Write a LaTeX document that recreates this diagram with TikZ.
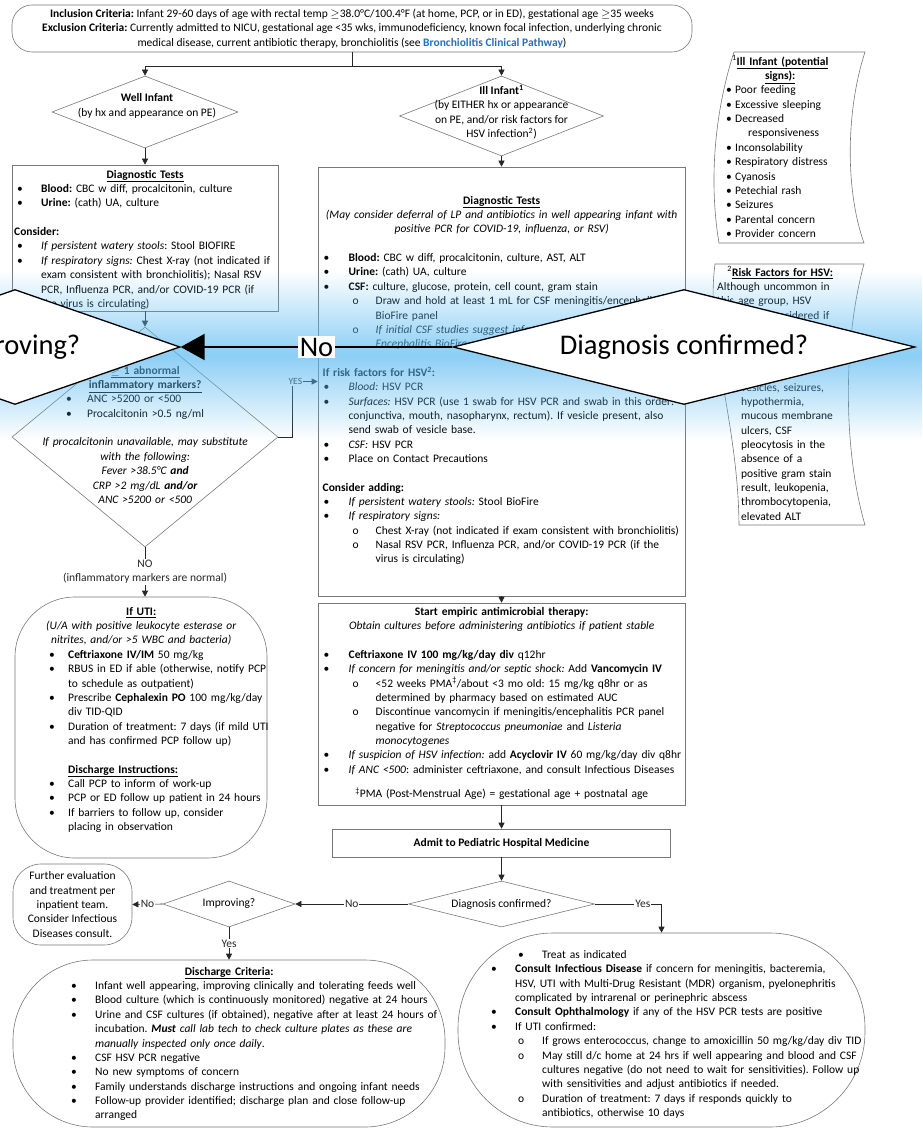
\documentclass[tikz,border=0pt]{standalone}
\usepackage{fontspec}
\setmainfont{Carlito}
\usetikzlibrary{shapes.geometric,arrows.meta,fadings}

\definecolor{linkblue}{RGB}{40,110,190}
\definecolor{bandblue}{RGB}{90,185,240}
\definecolor{edgegray}{RGB}{120,120,120}

\tikzfading[name=bandfade, top color=transparent!100, bottom color=transparent!100, middle color=transparent!30]

\frenchspacing
\newcommand{\bodyfont}{\fontsize{11.5pt}{14.35pt}\selectfont}
\newcommand{\bigfont}{\fontsize{28.5pt}{34pt}\selectfont}
\newcommand{\skipline}{\par\vspace{\baselineskip}}
% bullet / sub-bullet lines: [offset]{indent}{text}
\newcommand{\itm}[3][0pt]{\par\hangindent=\dimexpr#1+#2\relax\hangafter=1\noindent\hspace*{#1}\makebox[#2][l]{\textbullet}\strut#3}
\newcommand{\subitm}[3][0pt]{\par\hangindent=\dimexpr#1+#2\relax\hangafter=1\noindent\hspace*{#1}\makebox[#2][l]{o}\strut#3}

\begin{document}
\begin{tikzpicture}[x=1pt, y=-1pt,
    every node/.style={font=\bodyfont},
    box/.style={draw=edgegray, line width=0.6pt, inner sep=0pt},
    decision/.style={diamond, draw=edgegray, line width=0.6pt, inner sep=0pt},
    txt/.style={anchor=north west, inner sep=0pt, align=left, text width=#1},
    ctxt/.style={align=center, inner sep=0pt},
    arr/.style={-{Triangle[length=6pt,width=6pt]}, black!85, line width=0.6pt},
    lbl/.style={fill=white, inner sep=1pt},
    bigdecision/.style={diamond, draw=black, line width=1.3pt, fill=white, inner sep=0pt},
    bigarr/.style={-{Triangle[length=24pt,width=26pt]}, black, line width=2pt}]
    \useasboundingbox (0,0) rectangle (922,1131);

    % Define node positions (top to bottom)
    \node[box, rounded corners=20pt, minimum width=680pt, minimum height=47pt, align=center] (top) at (352,28.5)
        {\textbf{Inclusion Criteria:} Infant 29-60 days of age with rectal temp $\geq$38.0°C/100.4°F (at home, PCP, or in ED), gestational age $\geq$35 weeks\\
         \textbf{Exclusion Criteria:} Currently admitted to NICU, gestational age <35 wks, immunodeficiency, known focal infection, underlying chronic\\
         medical disease, current antibiotic therapy, bronchiolitis (see \textcolor{linkblue}{\textbf{Bronchiolitis Clinical Pathway}})};

    \node[decision, minimum width=186pt, minimum height=72pt] (well) at (145,112) {};
    \node[ctxt] (wellT) at (147,106) {\textbf{Well Infant}\\(by hx and appearance on PE)};
    \node[decision, minimum width=204pt, minimum height=80pt] (ill) at (501.5,116) {};
    \node[ctxt] (illT) at (501.5,112) {\textbf{Ill Infant\textsuperscript{1}}\\(by EITHER hx or appearance\\on PE, and/or risk factors for\\HSV infection\textsuperscript{2})};

    % left column
    \node[box, minimum width=266pt, minimum height=146pt] (diagL) at (145,238) {};
    \node[txt=280pt] (diagLT) at (5,168) {%
        {\centering\strut\underline{\textbf{Diagnostic Tests}}\par}
        \itm[12pt]{24pt}{\textbf{Blood:} CBC w diff, procalcitonin, culture}
        \itm[12pt]{24pt}{\textbf{Urine:} (cath) UA, culture}
        \skipline
        \noindent\hspace*{9pt}\strut\textbf{Consider:}
        \itm[12pt]{24pt}{\textit{If persistent watery stools}: Stool BIOFIRE}
        \itm[12pt]{24pt}{\textit{If respiratory signs:} Chest X-ray (not indicated if\newline exam consistent with bronchiolitis); Nasal RSV\newline PCR, Influenza PCR, and/or COVID-19 PCR (if\newline the virus is circulating)}\par};

    \node[decision, minimum width=266pt, minimum height=220pt] (infl) at (145,437) {};
    \node[txt=260pt] (inflT) at (15,364) {%
        {\centering\strut\underline{\textbf{$\geq$ 1 abnormal}}\par\underline{\textbf{inflammatory markers?}}\par}
        \itm[51pt]{21pt}{ANC >5200 or <500}
        \itm[51pt]{21pt}{Procalcitonin >0.5 ng/ml}
        \skipline
        {\centering\itshape If procalcitonin unavailable, may substitute\par with the following:\par
         Fever >38.5°C \textbf{and}\par CRP >2 mg/dL \textbf{and/or}\par ANC >5200 or <500\par}};

    \node[box, rounded corners=60pt, minimum width=252pt, minimum height=261pt] (uti) at (141,727.5) {};
    \node[txt=260pt] (utiT) at (11,605) {%
        {\centering\strut\underline{\textbf{If UTI:}}\par\itshape (U/A with positive leukocyte esterase or\par nitrites, and/or >5 WBC and bacteria)\par}
        \itm[38pt]{19pt}{\textbf{Ceftriaxone IV/IM} 50 mg/kg}
        \itm[38pt]{19pt}{RBUS in ED if able (otherwise, notify PCP\newline to schedule as outpatient)}
        \itm[38pt]{19pt}{Prescribe \textbf{Cephalexin PO} 100 mg/kg/day\newline div TID-QID}
        \itm[38pt]{19pt}{Duration of treatment: 7 days (if mild UTI\newline and has confirmed PCP follow up)}
        \skipline
        \noindent\hspace*{57pt}\strut\underline{\textbf{Discharge Instructions:}}
        \itm[38pt]{19pt}{Call PCP to inform of work-up}
        \itm[38pt]{19pt}{PCP or ED follow up patient in 24 hours}
        \itm[38pt]{19pt}{If barriers to follow up, consider\newline placing in observation}\par};

    % middle column
    \node[box, minimum width=367pt, minimum height=429pt] (diagM) at (501.5,381.5) {};
    \node[txt=400pt] (diagMT) at (301.5,194) {%
        {\centering\strut\underline{\textbf{Diagnostic Tests}}\par
         \textit{(May consider deferral of LP and antibiotics in well appearing infant with}\par
         \textit{positive PCR for COVID-19, influenza, or RSV)}\par}
        \skipline
        \itm[22pt]{25pt}{\textbf{Blood:} CBC w diff, procalcitonin, culture, AST, ALT}
        \itm[22pt]{25pt}{\textbf{Urine:} (cath) UA, culture}
        \itm[22pt]{25pt}{\textbf{CSF:} culture, glucose, protein, cell count, gram stain}
        \subitm[51pt]{23pt}{Draw and hold at least 1 mL for CSF meningitis/encephalitis\newline BioFire panel}
        \subitm[51pt]{23pt}{\textit{If initial CSF studies suggest infection, send Meningitis/}\newline \textit{Encephalitis BioFire panel}}
        \skipline
        \noindent\hspace*{21pt}\strut\textbf{If risk factors for HSV\textsuperscript{2}:}
        \itm[22pt]{25pt}{\textit{Blood:} HSV PCR}
        \itm[22pt]{25pt}{\textit{Surfaces:} HSV PCR (use 1 swab for HSV PCR and swab in this order:\newline conjunctiva, mouth, nasopharynx, rectum). If vesicle present, also\newline send swab of vesicle base.}
        \itm[22pt]{25pt}{\textit{CSF:} HSV PCR}
        \itm[22pt]{25pt}{Place on Contact Precautions}
        \skipline
        \noindent\hspace*{21pt}\strut\textbf{Consider adding:}
        \itm[22pt]{25pt}{\textit{If persistent watery stools:} Stool BioFire}
        \itm[22pt]{25pt}{\textit{If respiratory signs:}}
        \subitm[51pt]{23pt}{Chest X-ray (not indicated if exam consistent with bronchiolitis)}
        \subitm[51pt]{23pt}{Nasal RSV PCR, Influenza PCR, and/or COVID-19 PCR (if the\newline virus is circulating)}\par};

    \node[box, minimum width=367pt, minimum height=202pt] (abx) at (501.5,704) {};
    \node[txt=400pt] (abxT) at (301.5,605) {%
        {\centering\strut\textbf{Start empiric antimicrobial therapy:}\par\textit{Obtain cultures before administering antibiotics if patient stable}\par}
        \skipline
        \itm[22pt]{25pt}{\textbf{Ceftriaxone IV 100 mg/kg/day div} q12hr}
        \itm[22pt]{25pt}{\textit{If concern for meningitis and/or septic shock:} Add \textbf{Vancomycin IV}}
        \subitm[51pt]{23pt}{<52 weeks PMA\textsuperscript{\textdaggerdbl}/about <3 mo old: 15 mg/kg q8hr or as\newline determined by pharmacy based on estimated AUC}
        \subitm[51pt]{23pt}{Discontinue vancomycin if meningitis/encephalitis PCR panel\newline negative for \textit{Streptococcus pneumoniae} and \textit{Listeria}\newline \textit{monocytogenes}}
        \itm[22pt]{25pt}{\textit{If suspicion of HSV infection:} add \textbf{Acyclovir IV} 60 mg/kg/day div q8hr}
        \itm[22pt]{25pt}{\textit{If ANC <500}: administer ceftriaxone, and consult Infectious Diseases}
        \par\vspace{10.5pt}
        {\centering\strut\textsuperscript{\textdaggerdbl}PMA (Post-Menstrual Age) = gestational age + postnatal age\par}};

    \node[box, minimum width=338pt, minimum height=28pt] (admit) at (501.5,843) {\textbf{Admit to Pediatric Hospital Medicine}};

    % bottom row
    \node[decision, minimum width=186pt, minimum height=46pt] (dx) at (501.5,904) {};
    \node[ctxt] (dxT) at (dx.center) {Diagnosis confirmed?};
    \node[decision, minimum width=132pt, minimum height=46pt] (impr) at (229,904) {};
    \node[ctxt] (imprT) at (impr.center) {Improving?};
    \node[box, rounded corners=28pt, minimum width=119pt, minimum height=81pt, align=center] (further) at (72.5,904.5)
        {Further evaluation\\and treatment per\\inpatient team.\\Consider Infectious\\Diseases consult.};

    \node[box, rounded corners=80pt, minimum width=432pt, minimum height=167pt] (dischg) at (229,1043.5) {};
    \node[txt=420pt] (dischgT) at (19,965) {%
        {\centering\strut\underline{\textbf{Discharge Criteria}}\textbf{:}\par}
        \itm[52pt]{24pt}{Infant well appearing, improving clinically and tolerating feeds well}
        \itm[52pt]{24pt}{Blood culture (which is continuously monitored) negative at 24 hours}
        \itm[52pt]{24pt}{Urine and CSF cultures (if obtained), negative after at least 24 hours of\newline incubation. \textit{\textbf{Must} call lab tech to check culture plates as these are}\newline \textit{manually inspected only once daily}.}
        \itm[52pt]{24pt}{CSF HSV PCR negative}
        \itm[52pt]{24pt}{No new symptoms of concern}
        \itm[52pt]{24pt}{Family understands discharge instructions and ongoing infant needs}
        \itm[52pt]{24pt}{Follow-up provider identified; discharge plan and close follow-up\newline arranged}\par};

    \node[box, rounded corners=95pt, minimum width=407pt, minimum height=194pt] (treat) at (661.5,1030) {};
    \node[txt=400pt] (treatT) at (481,944) {%
        \itm[37pt]{24pt}{Treat as indicated}
        \itm[10pt]{24pt}{\textbf{Consult Infectious Disease} if concern for meningitis, bacteremia,\newline HSV, UTI with Multi-Drug Resistant (MDR) organism, pyelonephritis\newline complicated by intrarenal or perinephric abscess}
        \itm[10pt]{24pt}{\textbf{Consult Ophthalmology} if any of the HSV PCR tests are positive}
        \itm[10pt]{24pt}{If UTI confirmed:}
        \subitm[37pt]{24pt}{If grows enterococcus, change to amoxicillin 50 mg/kg/day div TID}
        \subitm[37pt]{24pt}{May still d/c home at 24 hrs if well appearing and blood and CSF\newline cultures negative (do not need to wait for sensitivities). Follow up\newline with sensitivities and adjust antibiotics if needed.}
        \subitm[37pt]{24pt}{Duration of treatment: 7 days if responds quickly to\newline antibiotics, otherwise 10 days}\par};

    % side notes
    \draw[edgegray, line width=0.6pt] (734,52) -- (865,52) .. controls (846,110) and (845,190) .. (864,243)
        -- (719,243) .. controls (710,190) and (712,120) .. (734,52) -- cycle;
    \node[txt=130pt] (side1) at (715,55) {%
        {\centering\strut\textsuperscript{1}\underline{\textbf{Ill Infant (potential}}\par\underline{\textbf{signs):}}\par}
        \itm[11pt]{9pt}{Poor feeding}
        \itm[11pt]{9pt}{Excessive sleeping}
        \itm[11pt]{9pt}{Decreased\newline\hspace*{13pt}responsiveness}
        \itm[11pt]{9pt}{Inconsolability}
        \itm[11pt]{9pt}{Respiratory distress}
        \itm[11pt]{9pt}{Cyanosis}
        \itm[11pt]{9pt}{Petechial rash}
        \itm[11pt]{9pt}{Seizures}
        \itm[11pt]{9pt}{Parental concern}
        \itm[11pt]{9pt}{Provider concern}\par};

    \draw[edgegray, line width=0.6pt] (715,264) -- (864,264) .. controls (843,340) and (843,450) .. (865,525)
        -- (739,525) .. controls (738,420) and (705,340) .. (715,264) -- cycle;
    \node[txt=126pt] (side2) at (717,266) {%
        {\centering\strut\textsuperscript{2}\underline{\textbf{Risk Factors for HSV:}}\par}
        \noindent\strut Although uncommon in\newline this age group, HSV\newline should be considered if
        \par\vspace{4\baselineskip}
        {\leftskip=24pt\noindent\strut vesicles, seizures,\newline hypothermia,\newline mucous membrane\newline ulcers, CSF\newline
         pleocytosis in the\newline absence of a\newline positive gram stain\newline result, leukopenia,\newline thrombocytopenia,\newline elevated ALT\par}};

    % Draw edges
    \draw[arr] (top.south) -- ++(0,14) -| (well.north);
    \draw[arr] (top.south) -- ++(0,14) -| (ill.north);
    \draw[arr] (well.south) -- (diagL.north);
    \draw[arr] (ill.south) -- (diagM.north);
    \draw[arr] (diagL.south) -- (infl.north);
    \draw[arr] (infl.east) -- ++(14,0) |- node[lbl, pos=0.56, font=\fontsize{9.5pt}{11pt}\selectfont] (yesL) {YES} (diagM.west);
    \draw[arr] (infl.south) -- node[lbl, align=center] (noL) {NO\\(inflammatory markers are normal)} (infl.south |- uti.north);
    \draw[arr] (diagM.south) -- (abx.north);
    \draw[arr] (abx.south) -- (admit.north);
    \draw[arr] (admit.south) -- (dx.north);
    \draw[arr] (dx.west) -- node[lbl] (noDx) {No} (impr.east);
    \draw[arr] (impr.west) -- node[lbl] (noImpr) {No} (further.east);
    \draw[arr] (impr.south) -- node[lbl] (yesImpr) {Yes} (dischg.north);
    \draw[arr] (dx.east) -| node[lbl, pos=0.36] (yesDx) {Yes} (treat.north);

    % enlarged copy laid over the middle
    \begin{scope}
        \clip (0,0) rectangle (922,1131);
        \fill[bandblue, path fading=bandfade] (0,270) rectangle (922,440);
        \node[bigdecision, minimum width=330pt, minimum height=115pt] (bigImpr) at (15,347) {};
        \node[bigdecision, minimum width=462pt, minimum height=115pt] (bigDx) at (684,347) {};
        \node[ctxt, font=\bigfont] (bigImprT) at (bigImpr.center) {Improving?};
        \node[ctxt, font=\bigfont] (bigDxT) at (bigDx.center) {Diagnosis confirmed?};
        \draw[bigarr] (bigDx.west) -- node[fill=white, font=\bigfont, inner sep=2pt] (bigNo) {No} (bigImpr.east);
    \end{scope}
\end{tikzpicture}
\end{document}
